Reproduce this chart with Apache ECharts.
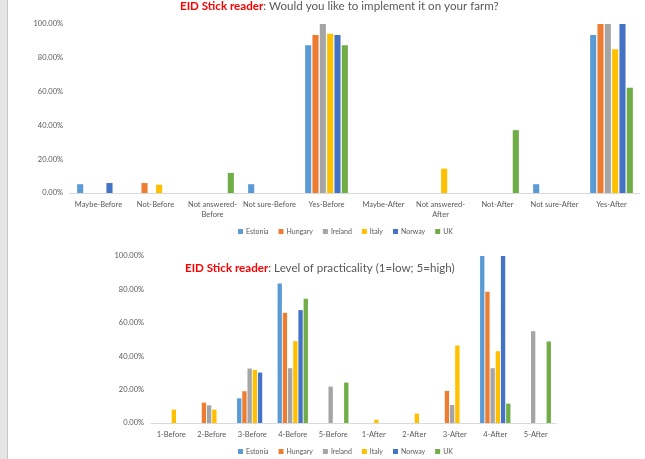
<!DOCTYPE html>
<html>
<head>
<meta charset="utf-8">
<script src="https://cdn.jsdelivr.net/npm/echarts@6/dist/echarts.min.js"></script>
<style>
  html, body { margin: 0; padding: 0; background: #fff; }
  #chart { width: 645px; height: 459px; }
</style>
</head>
<body>
<div id="chart"></div>
<script>
// Countries shown in both charts
const countries = ['Estonia', 'Hungary', 'Ireland', 'Italy', 'Norway', 'UK'];
const countryColors = ['#5B9BD5', '#ED7D31', '#A5A5A5', '#FFC000', '#4472C4', '#70AD47'];

// Chart 1: "Would you like to implement it on your farm?" (percent of answers)
const implementCategories = ['Maybe-Before', 'Not-Before', 'Not answered-Before', 'Not sure-Before', 'Yes-Before',
  'Maybe-After', 'Not answered-After', 'Not-After', 'Not sure-After', 'Yes-After'];
const implementEstonia = [5.2, 0, 0, 5.2, 87.4, 0, 0, 0, 5.2, 93.5];
const implementHungary = [0, 5.9, 0, 0, 93.5, 0, 0, 0, 0, 100];
const implementIreland = [0, 0, 0, 0, 100, 0, 0, 0, 0, 100];
const implementItaly   = [0, 4.9, 0, 0, 94.3, 0, 14.4, 0, 0, 85.0];
const implementNorway  = [5.9, 0, 0, 0, 93.5, 0, 0, 0, 0, 100];
const implementUK      = [0, 0, 11.9, 0, 87.4, 0, 0, 37.2, 0, 62.3];

// Chart 2: "Level of practicality (1=low; 5=high)" (percent of answers)
const practicalityCategories = ['1-Before', '2-Before', '3-Before', '4-Before', '5-Before',
  '1-After', '2-After', '3-After', '4-After', '5-After'];
const practicalityEstonia = [0, 0, 14.8, 83.6, 0, 0, 0, 0, 100, 0];
const practicalityHungary = [0, 12.2, 19.0, 66.0, 0, 0, 0, 19.2, 78.6, 0];
const practicalityIreland = [0, 10.6, 32.6, 32.8, 21.8, 0, 0, 10.8, 32.8, 55.0];
const practicalityItaly   = [8.0, 8.0, 31.8, 49.0, 0, 2.0, 5.6, 46.4, 43.0, 0];
const practicalityNorway  = [0, 0, 30.2, 67.6, 0, 0, 0, 0, 100, 0];
const practicalityUK      = [0, 0, 0, 74.4, 24.2, 0, 0, 0, 11.6, 48.8];

// Percent axis tick labels
const percentTicks = [0, 20, 40, 60, 80, 100];

const implementSeries = [implementEstonia, implementHungary, implementIreland, implementItaly, implementNorway, implementUK];
const practicalitySeries = [practicalityEstonia, practicalityHungary, practicalityIreland, practicalityItaly, practicalityNorway, practicalityUK];

const FONT = 'Lato';
const GREY_TEXT = '#595959';

function percentAxis(gridIndex) {
  return {
    type: 'value', gridIndex: gridIndex,
    min: percentTicks[0], max: percentTicks[percentTicks.length - 1],
    interval: percentTicks[1] - percentTicks[0],
    axisLine: { show: false }, axisTick: { show: false },
    splitLine: { show: false },
    axisLabel: {
      color: GREY_TEXT, fontSize: 7.5, fontFamily: FONT, margin: 7,
      formatter: v => v.toFixed(2) + '%'
    }
  };
}

function categoryAxis(gridIndex, data) {
  return {
    type: 'category', gridIndex: gridIndex, data: data,
    axisLine: { show: true, lineStyle: { color: '#D9D9D9', width: 1 } },
    axisTick: { show: false },
    axisLabel: {
      color: GREY_TEXT, fontSize: 7.5, fontFamily: FONT, margin: 7, interval: 0,
      lineHeight: 10,
      formatter: v => v.replace('answered-', 'answered-\n')
    }
  };
}

function legendAt(left, top) {
  return {
    data: countries, top: top, left: left, padding: 0,
    icon: 'rect', itemWidth: 5, itemHeight: 5, itemGap: 10,
    textStyle: { color: GREY_TEXT, fontSize: 7, fontFamily: FONT, padding: [0, 0, 0, -2] }
  };
}

function titleAt(left, top, size, question) {
  return {
    left: left, top: top, padding: 0,
    text: '{red|EID Stick reader}{grey|: ' + question + '}',
    textStyle: {
      fontFamily: FONT, fontSize: size, fontWeight: 'normal',
      rich: {
        red: { color: '#FF0000', fontWeight: 'bold', fontFamily: FONT, fontSize: size },
        grey: { color: GREY_TEXT, fontWeight: 'normal', fontFamily: FONT, fontSize: size }
      }
    }
  };
}

const series = [];
countries.forEach((name, i) => {
  series.push({
    name: name, type: 'bar', xAxisIndex: 0, yAxisIndex: 0,
    data: implementSeries[i], itemStyle: { color: countryColors[i] },
    barGap: '20%', barCategoryGap: '25%'
  });
  series.push({
    name: name, type: 'bar', xAxisIndex: 1, yAxisIndex: 1,
    data: practicalitySeries[i], itemStyle: { color: countryColors[i] },
    barGap: '20%', barCategoryGap: '25%'
  });
});

const chart = echarts.init(document.getElementById('chart'), null, { renderer: 'canvas' });
chart.setOption({
  backgroundColor: '#fff',
  animation: false,
  color: countryColors,
  title: [
    titleAt(180, 0, 11.6, 'Would you like to implement it on your farm?'),
    titleAt(185, 262, 11.6, 'Level of practicality (1=low; 5=high)')
  ],
  legend: [legendAt(238, 228), legendAt(238, 448)],
  grid: [
    { left: 70, right: 5, top: 24, bottom: 266, containLabel: false },
    { left: 151, width: 405, top: 256, bottom: 36, containLabel: false }
  ],
  xAxis: [categoryAxis(0, implementCategories), categoryAxis(1, practicalityCategories)],
  yAxis: [percentAxis(0), percentAxis(1)],
  series: series,
  graphic: [
    // light page margin on the left edge
    { type: 'rect', shape: { x: 0, y: 0, width: 7, height: 459 }, style: { fill: '#E6E6E6' }, z: 10 },
    { type: 'line', shape: { x1: 7.5, y1: 0, x2: 7.5, y2: 459 }, style: { stroke: '#C8C8C8', lineWidth: 1 }, z: 10 }
  ]
});
</script>
</body>
</html>
